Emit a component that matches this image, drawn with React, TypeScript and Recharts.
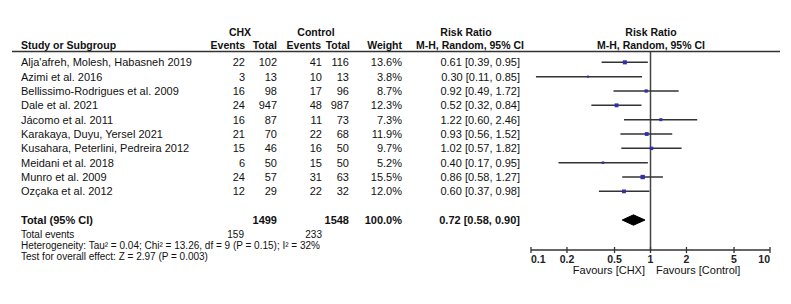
import React from 'react';
import { ScatterChart, Scatter, XAxis, YAxis, ReferenceLine } from 'recharts';

const studies = [
  "Alja'afreh, Molesh, Habasneh 2019",
  'Azimi et al. 2016',
  'Bellissimo-Rodrigues et al. 2009',
  'Dale et al. 2021',
  'Jácomo et al. 2011',
  'Karakaya, Duyu, Yersel 2021',
  'Kusahara, Peterlini, Pedreira 2012',
  'Meidani et al. 2018',
  'Munro et al. 2009',
  'Ozçaka et al. 2012',
];
const chxEvents = [22, 3, 16, 24, 16, 21, 15, 6, 24, 12];
const chxTotal = [102, 13, 98, 947, 87, 70, 46, 50, 57, 29];
const ctrlEvents = [41, 10, 17, 48, 11, 22, 16, 15, 31, 22];
const ctrlTotal = [116, 13, 96, 987, 73, 68, 50, 50, 63, 32];
const weights = [13.6, 3.8, 8.7, 12.3, 7.3, 11.9, 9.7, 5.2, 15.5, 12.0];
const rr = [0.61, 0.3, 0.92, 0.52, 1.22, 0.93, 1.02, 0.4, 0.86, 0.6];
const ciLow = [0.39, 0.11, 0.49, 0.32, 0.6, 0.56, 0.57, 0.17, 0.58, 0.37];
const ciHigh = [0.95, 0.85, 1.72, 0.84, 2.46, 1.52, 1.82, 0.95, 1.27, 0.98];

const totalRR = [0.72, 0.58, 0.9]; // estimate, low, high
const totalN = [1499, 1548];
const totalEvents = [159, 233];
const xTicks = [0.1, 0.2, 0.5, 1, 2, 5, 10];

const W = 791;
const H = 304;
const ROW0 = 62.3;
const ROW_H = 14.34;
const TOTAL_ROW = 11;
const FONT = '"Liberation Sans", Arial, sans-serif';

const fmt = (v: number) => v.toFixed(2);
const rowY = (i: number) => ROW0 + ROW_H * i;

const points = rr.map((v, i) => ({ x: v, y: i, w: weights[i] }));
const diamond = [
  { x: totalRR[1], y: TOTAL_ROW },
  { x: totalRR[0], y: TOTAL_ROW - 0.36 },
  { x: totalRR[2], y: TOTAL_ROW },
  { x: totalRR[0], y: TOTAL_ROW + 0.36 },
  { x: totalRR[1], y: TOTAL_ROW },
];

const Square = (props: any) => {
  const { cx, cy, payload } = props;
  const s = 1.1 * Math.sqrt(payload.w);
  return <rect x={cx - s / 2} y={cy - s / 2} width={s} height={s} fill="#2f2fb0" />;
};

const Tick = (props: any) => {
  const { x, y, payload, index } = props;
  const anchor = index === 0 ? 'start' : index === xTicks.length - 1 ? 'end' : 'middle';
  return (
    <g>
      <line x1={x} x2={x} y1={y - 3} y2={y + 3} stroke="#333" strokeWidth={1.3} />
      <text x={x} y={y + 13} textAnchor={anchor} fontSize={10.5} fontWeight="bold" fill="#222" fontFamily={FONT}>
        {payload.value}
      </text>
    </g>
  );
};

const Table = () => {
  const t = { fontFamily: FONT, fontSize: 11, fill: '#111' };
  const b = { ...t, fontWeight: 'bold' as const };
  const hb = { ...b, fontSize: 10.5 };
  const small = { ...t, fontSize: 10 };
  return (
    <svg width={W} height={H} style={{ position: 'absolute', left: 0, top: 0, pointerEvents: 'none' }}>
      <text x={240} y={36} textAnchor="middle" {...hb}>CHX</text>
      <text x={316} y={36} textAnchor="middle" {...hb}>Control</text>
      <text x={466} y={36} textAnchor="middle" {...hb}>Risk Ratio</text>
      <text x={651} y={36} textAnchor="middle" {...hb}>Risk Ratio</text>
      <text x={21} y={48.5} {...hb}>Study or Subgroup</text>
      <text x={245} y={48.5} textAnchor="end" {...hb}>Events</text>
      <text x={277} y={48.5} textAnchor="end" {...hb}>Total</text>
      <text x={321} y={48.5} textAnchor="end" {...hb}>Events</text>
      <text x={350} y={48.5} textAnchor="end" {...hb}>Total</text>
      <text x={402} y={48.5} textAnchor="end" {...hb}>Weight</text>
      <text x={470} y={48.5} textAnchor="middle" {...hb}>M-H, Random, 95% CI</text>
      <text x={651} y={48.5} textAnchor="middle" {...hb}>M-H, Random, 95% CI</text>
      <line x1={12} x2={780} y1={51.5} y2={51.5} stroke="#333" strokeWidth={1.5} />
      {studies.map((s, i) => {
        const y = rowY(i) + 4;
        return (
          <g key={s}>
            <text x={21} y={y} {...t}>{s}</text>
            <text x={245} y={y} textAnchor="end" {...t}>{chxEvents[i]}</text>
            <text x={277} y={y} textAnchor="end" {...t}>{chxTotal[i]}</text>
            <text x={322} y={y} textAnchor="end" {...t}>{ctrlEvents[i]}</text>
            <text x={349} y={y} textAnchor="end" {...t}>{ctrlTotal[i]}</text>
            <text x={402} y={y} textAnchor="end" {...t}>{weights[i].toFixed(1)}%</text>
            <text x={520} y={y} textAnchor="end" {...t}>
              {fmt(rr[i])} [{fmt(ciLow[i])}, {fmt(ciHigh[i])}]
            </text>
          </g>
        );
      })}
      <text x={21} y={224} {...b}>Total (95% CI)</text>
      <text x={277} y={224} textAnchor="end" {...b}>{totalN[0]}</text>
      <text x={349} y={224} textAnchor="end" {...b}>{totalN[1]}</text>
      <text x={402} y={224} textAnchor="end" {...b}>100.0%</text>
      <text x={520} y={224} textAnchor="end" {...b}>
        {fmt(totalRR[0])} [{fmt(totalRR[1])}, {fmt(totalRR[2])}]
      </text>
      <text x={21} y={238} {...small}>Total events</text>
      <text x={244} y={238} textAnchor="end" {...small}>{totalEvents[0]}</text>
      <text x={322} y={238} textAnchor="end" {...small}>{totalEvents[1]}</text>
      <text x={21} y={249} {...small}>Heterogeneity: Tau² = 0.04; Chi² = 13.26, df = 9 (P = 0.15); I² = 32%</text>
      <text x={21} y={260} {...small}>Test for overall effect: Z = 2.97 (P = 0.003)</text>
      <text x={645} y={274} textAnchor="end" {...t}>Favours [CHX]</text>
      <text x={656} y={274} {...t}>Favours [Control]</text>
    </svg>
  );
};

export default function App() {
  return (
    <div style={{ position: 'absolute', left: 0, top: 0, width: W, height: H, background: '#fff' }}>
      <ScatterChart width={W} height={H} margin={{ top: 52, right: 21, bottom: 24, left: 531 }}>
        <XAxis
          type="number"
          dataKey="x"
          scale="log"
          domain={[0.1, 10]}
          ticks={xTicks}
          allowDataOverflow
          height={30}
          axisLine={{ stroke: '#333', strokeWidth: 1.5 }}
          tickLine={false}
          tickSize={0}
          tickMargin={0}
          tick={<Tick />}
          interval={0}
        />
        <YAxis type="number" dataKey="y" domain={[-0.72, 13.09]} reversed hide allowDataOverflow />
        <ReferenceLine x={1} stroke="#444" strokeWidth={1.5} />
        {rr.map((_, i) => (
          <ReferenceLine
            key={i}
            segment={[
              { x: ciLow[i], y: i },
              { x: ciHigh[i], y: i },
            ]}
            stroke="#333"
            strokeWidth={1.5}
          />
        ))}
        <Scatter data={points} shape={<Square />} isAnimationActive={false} />
        <Scatter
          data={diamond}
          line={{ stroke: '#000', fill: '#000', strokeWidth: 1 }}
          lineType="joint"
          shape={() => null}
          isAnimationActive={false}
        />
      </ScatterChart>
      <Table />
    </div>
  );
}
